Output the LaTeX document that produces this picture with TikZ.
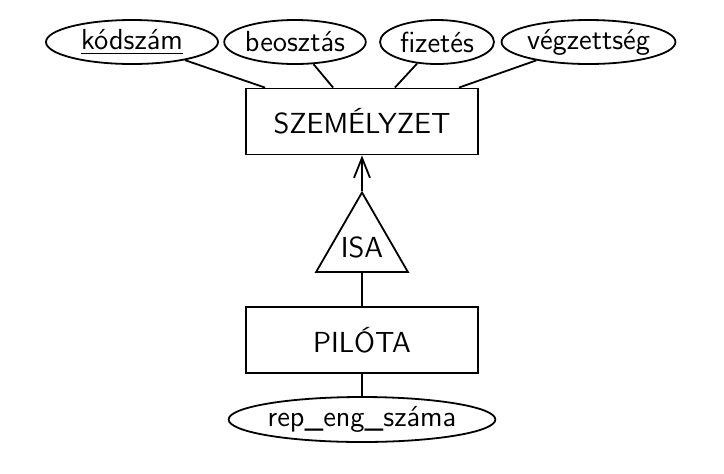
\documentclass[tikz,border=0pt]{standalone}
\usepackage{tikz}
\usetikzlibrary{positioning,shapes.geometric,arrows.meta}

\begin{document}
\begin{tikzpicture}[x=0.5pt,y=-0.5pt,line width=0.9pt,
  font=\sffamily\fontsize{14.5}{16}\selectfont,
  attr/.style={draw,ellipse,inner sep=0pt,minimum height=22pt},
  entity/.style={draw,rectangle,minimum width=116pt,minimum height=33pt},
  isa/.style={draw,regular polygon,regular polygon sides=3,inner sep=0pt,minimum size=53pt}]
\useasboundingbox (0,0) rectangle (724,473);
% attributes
\node[attr,minimum width=86pt] (kodszam) at (132,42) {\underline{kódszám}};
\node[attr,minimum width=69pt] (beosztas) at (295,42) {beosztás};
\node[attr,minimum width=57pt] (fizetes) at (437,42) {fizetés};
\node[attr,minimum width=83.5pt] (vegzettseg) at (588.5,42) {végzettség};
% entities
\node[entity] (szem) at (362,121.5) {SZEMÉLYZET};
\node[isa,label={[yshift=-1pt]center:ISA}] (isa) at (362,245.5) {};
\node[entity] (pilota) at (362,340) {PILÓTA};
\node[attr,minimum width=116pt,minimum height=22.5pt] (repeng) at (362,419.5) {rep\_eng\_száma};
% connectors
\draw (kodszam) -- ([xshift=10pt]szem.north west);
\draw (beosztas) -- ([xshift=44pt]szem.north west);
\draw (fizetes) -- ([xshift=-42pt]szem.north east);
\draw (vegzettseg) -- ([xshift=-10pt]szem.north east);
\draw[-{Straight Barb[length=10pt,width=8pt]}] (isa.corner 1) -- (szem.south);
\draw (isa.side 2) -- (pilota.north);
\draw (pilota) -- (repeng);
\end{tikzpicture}
\end{document}
